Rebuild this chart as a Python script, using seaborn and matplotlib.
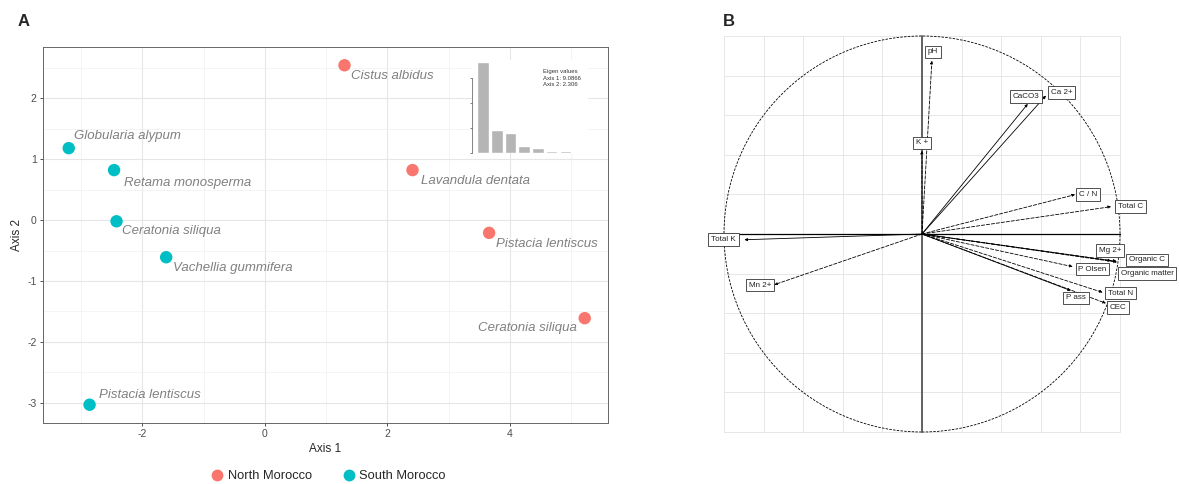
import numpy as np
import pandas as pd
import seaborn as sns
import matplotlib.pyplot as plt
from matplotlib.patches import Circle

# ================= Panel A data (site scores) ================= #
species = ["Cistus albidus", "Lavandula dentata", "Pistacia lentiscus", "Ceratonia siliqua",
           "Globularia alypum", "Retama monosperma", "Ceratonia siliqua",
           "Vachellia gummifera", "Pistacia lentiscus"]
region = ["North Morocco"] * 4 + ["South Morocco"] * 5
axis1 = [1.30, 2.41, 3.66, 5.22, -3.20, -2.46, -2.42, -1.61, -2.86]
axis2 = [2.54, 0.82, -0.21, -1.61, 1.18, 0.82, -0.02, -0.61, -3.03]
eigen = [9.0866, 2.31, 2.05, 0.75, 0.55, 0.22, 0.16, 0.14]

# ================= Panel B data (correlation circle) ================= #
variables = ["pH", "K +", "CaCO3", "Ca 2+", "C / N", "Total C", "Total K", "Mn 2+",
             "Mg 2+", "Organic C", "Organic matter", "P Olsen", "Total N", "P ass", "CEC"]
var_x = [0.05, 0.00, 0.534, 0.626, 0.773, 0.955, -0.897, -0.746,
         0.955, 0.983, 0.985, 0.761, 0.912, 0.752, 0.929]
var_y = [0.875, 0.42, 0.657, 0.699, 0.199, 0.138, -0.029, -0.256,
         -0.135, -0.138, -0.142, -0.165, -0.295, -0.286, -0.350]

# layout: label offsets (data units) and arrow line styles
lab_dx = [0.004, 0.0, -0.01, 0.078, 0.066, 0.098, -0.105, -0.07,
          -0.004, 0.152, 0.152, 0.1, 0.09, 0.026, 0.062]
lab_dy = [0.045, 0.04, 0.038, 0.016, 0.0, 0.0, 0.0, -0.002,
          0.051, 0.007, -0.057, -0.012, -0.003, -0.037, -0.02]
solid = {"CaCO3", "Ca 2+", "Total K", "Mg 2+", "P ass"}

df = pd.DataFrame({"species": species, "region": region, "Axis 1": axis1, "Axis 2": axis2})
palette = {"North Morocco": "#F8766D", "South Morocco": "#00BFC4"}

sns.set_theme(style="white")
plt.rcParams["font.family"] = ["Liberation Sans", "DejaVu Sans"]
plt.rcParams["axes.unicode_minus"] = False

fig = plt.figure(figsize=(11.79, 4.84), dpi=100)
W, H = 1179, 484

# ============================================================= #
# ========================== Panel A ========================== #
# ============================================================= #
axA = fig.add_axes([43 / W, 1 - 423 / H, 565 / W, 376 / H])
sns.scatterplot(data=df, x="Axis 1", y="Axis 2", hue="region", palette=palette,
                s=80, edgecolor="none", ax=axA, zorder=3)
axA.set_xlim(-3.62, 5.6)
axA.set_ylim(-3.33, 2.84)
axA.set_xticks([-2, 0, 2, 4])
axA.set_yticks([-3, -2, -1, 0, 1, 2])
axA.set_xticks([-3, -1, 1, 3, 5], minor=True)
axA.set_yticks([-2.5, -1.5, -0.5, 0.5, 1.5, 2.5], minor=True)
axA.grid(True, which="major", color="#e6e6e6", lw=0.8)
axA.grid(True, which="minor", color="#f0f0f0", lw=0.5)
axA.set_axisbelow(True)
axA.tick_params(which="major", length=2.5, width=0.6, color="#333333",
                labelsize=7.5, labelcolor="#4d4d4d", pad=2, bottom=True, left=True)
axA.tick_params(which="minor", length=0)
for sp in axA.spines.values():
    sp.set_color("#666666")
    sp.set_linewidth(0.7)
axA.set_xlabel("Axis 1", fontsize=8.5, labelpad=3)
axA.set_ylabel("Axis 2", fontsize=8.5, labelpad=3)

offsets = [(5, -8), (6, -8), (5, -8), (-6, -7), (4, 9), (7, -9), (4, -7), (5, -8), (7, 7)]
aligns = ["left"] * 3 + ["right"] + ["left"] * 5
for sp_name, x, y, off, ha in zip(species, axis1, axis2, offsets, aligns):
    axA.annotate(sp_name, (x, y), xytext=off, textcoords="offset points", ha=ha,
                 va="center", fontsize=9.5, style="italic", color="#808080")

sns.move_legend(axA, "center", bbox_to_anchor=(0.505, -0.141), ncol=2, frameon=False,
                title=None, fontsize=9.3, handletextpad=0.3, handlelength=1.0,
                columnspacing=2.4, markerscale=0.95)

# eigenvalue inset
axI = fig.add_axes([472 / W, 1 - 153 / H, 116 / W, 93 / H])
axI.set_facecolor("white")
sns.barplot(x=list(range(len(eigen))), y=eigen, color="#b5b5b5", width=0.85,
            saturation=1, ax=axI)
axI.set_xticks([])
axI.set_yticks([0, 2.5, 5, 7.5])
axI.set_yticklabels([])
axI.tick_params(axis="y", length=1.5, width=0.4, left=True)
axI.set_ylim(0, 9.3)
axI.set_xlim(-0.8, 7.65)
for k in ["top", "right", "bottom"]:
    axI.spines[k].set_visible(False)
axI.spines["left"].set_linewidth(0.5)
axI.spines["left"].set_color("#555555")
axI.spines["left"].set_bounds(0, 7.5)
axI.text(0.61, 0.90, "Eigen values\nAxis 1: 9.0866\nAxis 2: 2.306", transform=axI.transAxes,
         fontsize=4.3, va="top", ha="left", color="#333333", linespacing=1.3)
axI.set_ylabel("")

# ============================================================= #
# ========================== Panel B ========================== #
# ============================================================= #
cx, cy, R = 922, 234, 198
x0, x1 = (700 - cx) / R, (W - cx) / R
y0, y1 = -(450 - cy) / R, (cy - 20) / R
axB = fig.add_axes([700 / W, 1 - 450 / H, (W - 700) / W, 430 / H])
axB.set_xlim(x0, x1)
axB.set_ylim(y0, y1)
axB.axis("off")

for g in np.arange(-1.0, 1.01, 0.2):
    axB.plot([g, g], [-1, 1], color="#e3e3e3", lw=0.6, zorder=0)
    axB.plot([-1, 1], [g, g], color="#e3e3e3", lw=0.6, zorder=0)
axB.add_patch(Circle((0, 0), 1, fill=False, ec="black", lw=0.6, ls=(0, (3, 1.5)), zorder=1))
axB.plot([-1, 1], [0, 0], color="black", lw=0.9, zorder=1)
axB.plot([0, 0], [-1, 1], color="#555555", lw=1.3, zorder=1)

for name, x, y, dx, dy in zip(variables, var_x, var_y, lab_dx, lab_dy):
    ls = "-" if name in solid else (0, (4, 2))
    axB.annotate("", xy=(x, y), xytext=(0, 0),
                 arrowprops=dict(arrowstyle="-|>", mutation_scale=4, lw=0.6,
                                 ls=ls, color="black", shrinkA=0, shrinkB=0), zorder=2)
    axB.text(x + dx, y + dy, name, fontsize=5.8, ha="center", va="center", color="#222222",
             zorder=3, bbox=dict(boxstyle="square,pad=0.35", fc="white", ec="#333333", lw=0.6))

fig.text(18 / W, 1 - 22 / H, "A", fontsize=12, fontweight="bold", va="center")
fig.text(723 / W, 1 - 22 / H, "B", fontsize=12, fontweight="bold", va="center")

fig.savefig("out.png", dpi=100, facecolor="white")
